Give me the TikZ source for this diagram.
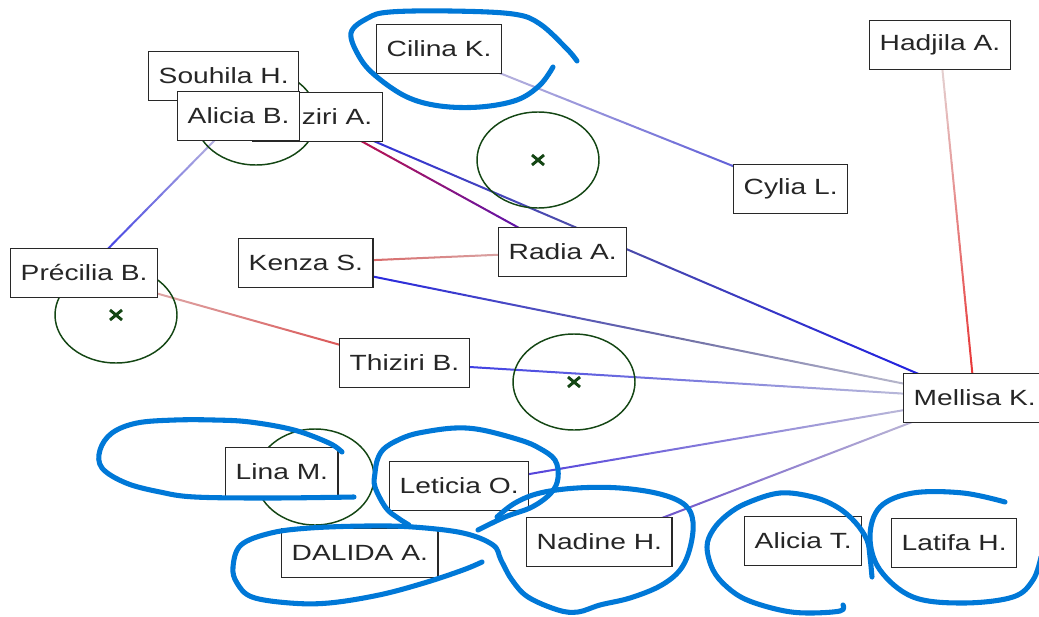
\documentclass[tikz,border=0pt]{standalone}
\usepackage{fontspec}
\setmainfont{Liberation Sans}
\usepackage{graphicx}
\usetikzlibrary{calc}

\pgfdeclarelayer{back}
\pgfdeclarelayer{ink}
\pgfsetlayers{back,main,ink}

\definecolor{labelgray}{RGB}{38,38,38}
\definecolor{boxline}{RGB}{40,40,40}
\definecolor{ringgreen}{RGB}{20,70,20}
\definecolor{markerblue}{RGB}{0,120,215}
% link colours
\definecolor{paleLav}{RGB}{205,200,222}
\definecolor{midBlue}{RGB}{75,75,215}
\definecolor{paleRose}{RGB}{228,222,222}
\definecolor{brightRed}{RGB}{232,40,40}
\definecolor{deepBlue}{RGB}{45,45,228}
\definecolor{crimson}{RGB}{210,20,55}
\definecolor{violet}{RGB}{70,20,195}
\definecolor{slate}{RGB}{80,80,165}
\definecolor{slateGray}{RGB}{110,110,165}
\definecolor{paleGray}{RGB}{205,205,215}
\definecolor{softRed}{RGB}{215,75,75}
\definecolor{softPink}{RGB}{218,192,192}
\definecolor{pureBlue}{RGB}{25,25,235}
\definecolor{roseGray}{RGB}{222,198,198}
\definecolor{warmRed}{RGB}{218,60,60}
\definecolor{indigo}{RGB}{65,45,220}
\definecolor{purpleBlue}{RGB}{90,60,200}

% stretched label text
\newcommand\stretchtxt[1]{\scalebox{1.28}[1]{#1}}

% straight link between two named points, coloured with a linear blend
\newcommand\gradline[4]{%
  \foreach \k in {1,...,30}{%
    \pgfmathsetmacro\gA{(\k-1)/30}%
    \pgfmathsetmacro\gB{\k/30}%
    \pgfmathtruncatemacro\gM{100*(\k-0.5)/30}%
    \draw[link,#4!\gM!#3] ($(#1)!\gA!(#2)$) -- ($(#1)!\gB!(#2)$);
  }}

\tikzset{
  person/.style={draw=boxline, line width=1.1pt, fill=white, text=labelgray,
    font=\fontsize{16.5}{19}\selectfont, minimum height=36.75pt,
    inner xsep=7.5pt, inner ysep=0pt, anchor=west},
  link/.style={line width=1.5pt, line cap=round},
  ring/.style={draw=ringgreen, line width=1.1pt},
  xmark/.style={draw=ringgreen, line width=2.2pt},
  marker/.style={draw=markerblue, line width=3.8pt, line cap=round, line join=round},
}

\begin{document}
\begin{tikzpicture}[x=0.75pt, y=-0.75pt]
\useasboundingbox (0,0) rectangle (1039,617);

% people
\node[person] (cilina)   at (376,49)  {\stretchtxt{Cilina K.}};
\node[person] (thiA)     at (252,117) {\stretchtxt{Thiziri A.}};
\node[person] (souhila)  at (148,76)  {\stretchtxt{Souhila H.}};
\node[person] (aliciaB)  at (177,116) {\stretchtxt{Alicia B.}};
\node[person] (hadjila)  at (869,45)  {\stretchtxt{Hadjila A.}};
\node[person] (cylia)    at (733,189) {\stretchtxt{Cylia L.}};
\node[person] (radia)    at (498,252) {\stretchtxt{Radia A.}};
\node[person] (kenza)    at (238,263) {\stretchtxt{Kenza S.}};
\node[person] (precilia) at (10,273)  {\stretchtxt{Précilia B.}};
\node[person] (thiB)     at (339,363) {\stretchtxt{Thiziri B.}};
\node[person] (mellisa)  at (903,398) {\stretchtxt{Mellisa K.}};
\node[person] (lina)     at (225,472) {\stretchtxt{Lina M.}};
\node[person] (leticia)  at (389,486) {\stretchtxt{Leticia O.}};
\node[person] (dalida)   at (281,553) {\stretchtxt{DALIDA A.}};
\node[person] (nadine)   at (526,542) {\stretchtxt{Nadine H.}};
\node[person] (aliciaT)  at (744,541) {\stretchtxt{Alicia T.}};
\node[person] (latifa)   at (891,543) {\stretchtxt{Latifa H.}};

% helper points where a link changes its blend
\coordinate (thAmid) at ($(thiA)!0.42!(mellisa)$);
\coordinate (kenmid) at ($(kenza)!0.55!(mellisa)$);

\begin{pgfonlayer}{back}
  % links
  \gradline{cilina}{cylia}{paleLav}{midBlue}
  \gradline{hadjila}{mellisa}{paleRose}{brightRed}
  \gradline{aliciaB}{precilia}{paleLav}{deepBlue}
  \gradline{thiA}{radia}{crimson}{violet}
  \gradline{thiA}{thAmid}{deepBlue}{slate}
  \gradline{thAmid}{mellisa}{slate}{pureBlue}
  \gradline{kenza}{radia}{softRed}{softPink}
  \gradline{kenza}{kenmid}{pureBlue}{slateGray}
  \gradline{kenmid}{mellisa}{slateGray}{paleGray}
  \gradline{precilia}{thiB}{roseGray}{warmRed}
  \gradline{thiB}{mellisa}{deepBlue}{paleGray}
  \gradline{leticia}{mellisa}{indigo}{paleGray}
  \gradline{nadine}{mellisa}{purpleBlue}{paleGray}

  % rings with centre marks
  \draw[ring] (256,117) ellipse [x radius=45.75pt, y radius=36pt];
  \draw[ring] (538,160) ellipse [x radius=45.75pt, y radius=36pt];
  \draw[ring] (116,315) ellipse [x radius=45.75pt, y radius=36pt];
  \draw[ring] (574,382) ellipse [x radius=45.75pt, y radius=36pt];
  \draw[ring] (315,477) ellipse [x radius=44.25pt, y radius=36pt];
  \draw[xmark] (538,160) +(-6,-5) -- +(6,5) +(-6,5) -- +(6,-5);
  \draw[xmark] (116,315) +(-6,-5) -- +(6,5) +(-6,5) -- +(6,-5);
  \draw[xmark] (574,382) +(-6,-5) -- +(6,5) +(-6,5) -- +(6,-5);
\end{pgfonlayer}

\begin{pgfonlayer}{ink}
  % hand-drawn marker strokes
  \draw[marker] plot[smooth, tension=0.6] coordinates {
    (577,61) (567,49) (540,24) (513,14) (450,11) (390,12) (368,18) (351,33)
    (360,58) (377,77) (407,97) (440,106) (480,107) (517,100) (540,85) (553,67)};
  \draw[marker] plot[smooth, tension=0.6] coordinates {
    (342,452) (329,443) (294,430) (250,422) (214,420) (175,420) (137,423)
    (112,433) (100,450) (102,468) (126,483) (160,492) (195,497) (271,498) (354,497)};
  \draw[marker] plot[smooth, tension=0.6] coordinates {
    (478,530) (505,517) (532,507) (551,493) (558,478) (555,460) (539,448)
    (520,440) (482,430) (455,428) (424,432) (405,437) (386,447) (378,458)
    (375,473) (375,487) (386,508) (398,518) (409,525)};
  \draw[marker] plot[smooth, tension=0.6] coordinates {
    (482,562) (463,570) (424,583) (379,595) (329,603) (290,603) (252,597)
    (237,583) (233,567) (241,545) (271,533) (310,528) (367,526) (413,527)
    (463,533) (493,545) (501,560) (512,580) (528,597) (558,610) (578,612)
    (600,605) (630,598) (660,586) (680,570) (690,548) (693,522) (685,505)
    (660,494) (620,488) (577,488) (540,493) (515,503) (497,517)};
  \draw[marker] plot[smooth, tension=0.6] coordinates {
    (843,605) (840,611) (807,613) (780,610) (747,600) (727,587) (713,570)
    (707,547) (713,530) (727,515) (747,503) (780,493) (813,497) (837,507)
    (855,522) (867,540) (870,557) (872,577)};
  \draw[marker] plot[smooth, tension=0.6] coordinates {
    (1005,502) (963,493) (913,493) (880,507) (870,537) (880,570) (913,597)
    (963,603) (1013,597) (1033,580) (1041,557)};
\end{pgfonlayer}
\end{tikzpicture}
\end{document}
